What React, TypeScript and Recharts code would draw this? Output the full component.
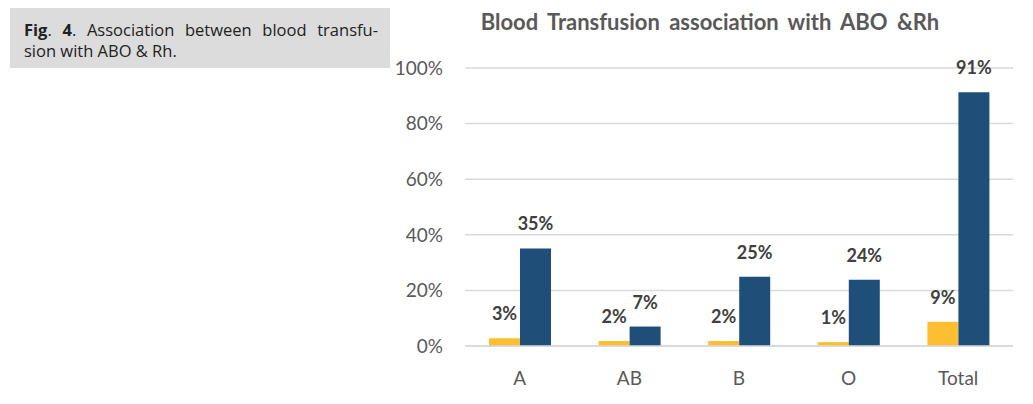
import { BarChart, Bar, XAxis, YAxis, CartesianGrid, LabelList } from 'recharts';

const CATEGORIES = ['A', 'AB', 'B', 'O', 'Total'];
const YES_VALUES = [2.8, 1.8, 1.8, 1.4, 8.7];
const NO_VALUES = [35.1, 7.0, 24.9, 23.8, 91.3];
const Y_TICKS = [0, 20, 40, 60, 80, 100];

const YELLOW = '#FDBE32';
const BLUE = '#1F4E79';
const FONT = 'Lato, "Open Sans", sans-serif';

const data = CATEGORIES.map((c, i) => ({
  name: c,
  yes: YES_VALUES[i],
  no: NO_VALUES[i],
}));

const renderLabel = (props: any) => {
  const { x, y, width, value } = props;
  return (
    <text
      x={x + width / 2}
      y={y - 18}
      textAnchor="middle"
      fontSize={18}
      fontWeight={700}
      fill="#404040"
      fontFamily={FONT}
    >
      {Math.round(value)}%
    </text>
  );
};

export default function App() {
  return (
    <div style={{ position: 'absolute', left: 0, top: 0, width: 1033, height: 404, background: '#fff' }}>
      <div
        style={{
          position: 'absolute',
          left: 10,
          top: 8,
          width: 380,
          height: 60,
          background: '#dcdcdc',
          boxSizing: 'border-box',
          padding: '11px 12px 0 14px',
          fontFamily: '"Open Sans", sans-serif',
          fontSize: 16.5,
          lineHeight: '21px',
          color: '#222',
        }}
      >
        <div style={{ textAlign: 'justify', textAlignLast: 'justify' }}>
          <b>Fig</b>. <b>4</b>. Association between blood transfu-
        </div>
        <div>sion with ABO &amp; Rh.</div>
      </div>
      <div
        style={{
          position: 'absolute',
          left: 390,
          top: 8,
          width: 640,
          textAlign: 'center',
          fontFamily: FONT,
          fontWeight: 700,
          fontSize: 22,
          wordSpacing: 4,
          color: '#595959',
        }}
      >
        Blood Transfusion association with ABO &amp;Rh
      </div>
      <BarChart
        width={1033}
        height={404}
        data={data}
        margin={{ top: 68, right: 20, bottom: 0, left: 0 }}
        barGap={0}
        barSize={31}
      >
        <CartesianGrid vertical={false} stroke="#d9d9d9" strokeWidth={1.5} />
        <XAxis
          dataKey="name"
          height={58}
          axisLine={{ stroke: '#d9d9d9', strokeWidth: 1.5 }}
          tickLine={false}
          tickMargin={20}
          tick={{ fill: '#595959', fontSize: 19, fontFamily: FONT }}
        />
        <YAxis
          width={465}
          domain={[0, 100]}
          ticks={Y_TICKS}
          axisLine={false}
          tickLine={false}
          tickSize={0}
          tickMargin={22}
          tickFormatter={(v) => `${v}%`}
          tick={{ fill: '#595959', fontSize: 19, fontFamily: FONT }}
        />
        <Bar dataKey="yes" fill={YELLOW} isAnimationActive={false}>
          <LabelList dataKey="yes" content={renderLabel} />
        </Bar>
        <Bar dataKey="no" fill={BLUE} isAnimationActive={false}>
          <LabelList dataKey="no" content={renderLabel} />
        </Bar>
      </BarChart>
    </div>
  );
}
